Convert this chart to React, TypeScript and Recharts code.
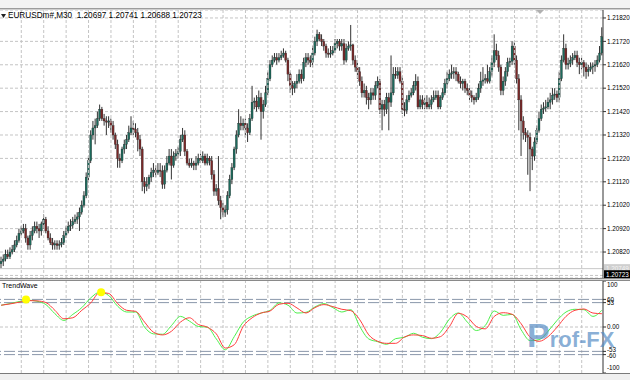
import React from "react";
import {
  Bar,
  CartesianGrid,
  ComposedChart,
  Line,
  ReferenceDot,
  ReferenceLine,
  XAxis,
  YAxis,
} from "recharts";

const symbolTitle = "EURUSDm#,M30  1.20697 1.20741 1.20688 1.20723";
const indicatorName = "TrendWave";
const bidPrice = 1.20723;
const askPrice = 1.20749;
const firstOpen = 1.2077;

// M30 bars (open = previous close)
const closes = [
  1.2078, 1.2079, 1.2081, 1.208, 1.2082, 1.2083, 1.2085, 1.2087, 1.209, 1.2091,
  1.2092, 1.2088, 1.2085, 1.2089, 1.2091, 1.2093, 1.2092, 1.2091, 1.2094, 1.2096,
  1.2091, 1.2088, 1.2086, 1.2085, 1.20855, 1.20848, 1.20852, 1.2086, 1.2089, 1.2091,
  1.2093, 1.20935, 1.2095, 1.2096, 1.2097, 1.2099, 1.2102, 1.2106, 1.2114, 1.2121,
  1.2132, 1.2135, 1.2136, 1.2139, 1.2143, 1.2139, 1.2138, 1.21375, 1.2138, 1.2136,
  1.2132, 1.2128, 1.2122, 1.2121, 1.2126, 1.2128, 1.213, 1.2133, 1.2135, 1.21345,
  1.2133, 1.213, 1.2126, 1.2112, 1.211, 1.2111, 1.2114, 1.2116, 1.2117, 1.2116,
  1.2117, 1.21165, 1.2111, 1.2117, 1.212, 1.2123, 1.2119, 1.2123, 1.2124, 1.2125,
  1.213, 1.2132, 1.2125, 1.212, 1.2119, 1.212, 1.2119, 1.212, 1.2122, 1.2121,
  1.2123, 1.212, 1.2122, 1.2121, 1.2115, 1.2108, 1.2109, 1.2104, 1.2101, 1.2099,
  1.21, 1.2106, 1.2113, 1.2118, 1.2126, 1.2132, 1.2137, 1.2136, 1.2137, 1.2135,
  1.2133, 1.2139, 1.2146, 1.21465, 1.2144, 1.2148, 1.2142, 1.2145, 1.215, 1.2156,
  1.2162, 1.2164, 1.2165, 1.2164, 1.2165, 1.2166, 1.2167, 1.2164, 1.2158, 1.2153,
  1.2152, 1.2154, 1.2155, 1.2158, 1.2156, 1.2163, 1.2165, 1.2164, 1.2163, 1.2167,
  1.2172, 1.2175, 1.2173, 1.2172, 1.217, 1.2167, 1.21665, 1.2167, 1.2168, 1.2171,
  1.2172, 1.217, 1.2171, 1.2164, 1.2169, 1.217, 1.21705, 1.2164, 1.2161, 1.2159,
  1.2155, 1.215, 1.2151, 1.2148, 1.2147, 1.215, 1.2149, 1.2153, 1.2155, 1.2143,
  1.2145, 1.2143, 1.2148, 1.2146, 1.215, 1.2158, 1.21575, 1.2159, 1.2155, 1.2143,
  1.21425, 1.2147, 1.2149, 1.215, 1.2153, 1.2155, 1.2144, 1.2147, 1.2145, 1.2146,
  1.2144, 1.2145, 1.2147, 1.2148, 1.2149, 1.2144, 1.2148, 1.215, 1.2154, 1.2156,
  1.2158, 1.21585, 1.2159, 1.2158, 1.2155, 1.2154, 1.2155, 1.2152, 1.2151, 1.2149,
  1.2148, 1.2147, 1.2148, 1.2152, 1.2155, 1.21555, 1.2156, 1.2155, 1.2159, 1.2163,
  1.2168, 1.2166, 1.2161, 1.2151, 1.2155, 1.2159, 1.2163, 1.21635, 1.217, 1.2164,
  1.2156, 1.2147, 1.2138, 1.2133, 1.2132, 1.2131, 1.2126, 1.2123, 1.2129, 1.2134,
  1.2139, 1.2143, 1.21435, 1.2144, 1.2146, 1.2147, 1.2149, 1.21495, 1.2148, 1.2156,
  1.2164, 1.2169, 1.2162, 1.21625, 1.2164, 1.2165, 1.2166, 1.2163, 1.2162, 1.2163,
  1.2161, 1.2159, 1.216, 1.2161, 1.21615, 1.2162, 1.2164, 1.2167, 1.2174,
];

const highs = [
  1.208, 1.2081, 1.2083, 1.2083, 1.2084, 1.2085, 1.2087, 1.2089, 1.2092, 1.2093,
  1.2094, 1.2094, 1.2089, 1.2091, 1.2093, 1.2095, 1.2095, 1.2094, 1.2095, 1.2098,
  1.2097, 1.2093, 1.209, 1.2088, 1.2087, 1.2087, 1.2087, 1.2088, 1.2091, 1.2093,
  1.2095, 1.2096, 1.2097, 1.2098, 1.2099, 1.2101, 1.2104, 1.2108, 1.2116, 1.2123,
  1.2134, 1.2138, 1.2139, 1.2142, 1.2145, 1.2144, 1.2141, 1.214, 1.214, 1.2139,
  1.2138, 1.2133, 1.213, 1.2124, 1.2127, 1.213, 1.2132, 1.2136, 1.214, 1.2138,
  1.2137, 1.2135, 1.2132, 1.2127, 1.2114, 1.2114, 1.2115, 1.2118, 1.212, 1.2119,
  1.212, 1.212, 1.2119, 1.2119, 1.2123, 1.2126, 1.2126, 1.2125, 1.2126, 1.2127,
  1.2132, 1.2135, 1.2134, 1.2126, 1.2122, 1.2122, 1.2121, 1.2123, 1.2124, 1.2124,
  1.2125, 1.2124, 1.2124, 1.2123, 1.2123, 1.2117, 1.2111, 1.2123, 1.2106, 1.2103,
  1.2102, 1.2108, 1.2115, 1.212, 1.2127, 1.2134, 1.2143, 1.214, 1.2139, 1.2139,
  1.2137, 1.2141, 1.2153, 1.2148, 1.2149, 1.2151, 1.215, 1.2147, 1.2153, 1.2159,
  1.2164, 1.2166, 1.2167, 1.2167, 1.2167, 1.2168, 1.2169, 1.2168, 1.2165, 1.2159,
  1.2155, 1.2155, 1.2158, 1.216, 1.216, 1.2165, 1.2167, 1.2167, 1.2166, 1.217,
  1.2174, 1.2177, 1.2176, 1.2175, 1.2173, 1.2171, 1.2169, 1.217, 1.217, 1.2173,
  1.2173, 1.2173, 1.2173, 1.2173, 1.2171, 1.2172, 1.2179, 1.2171, 1.2166, 1.2163,
  1.2161, 1.2157, 1.2154, 1.2153, 1.215, 1.2152, 1.2152, 1.2155, 1.2157, 1.2156,
  1.2147, 1.2147, 1.215, 1.215, 1.2166, 1.2161, 1.2161, 1.2161, 1.2161, 1.2157,
  1.2146, 1.2149, 1.2151, 1.2152, 1.2155, 1.2158, 1.2157, 1.2149, 1.2149, 1.2148,
  1.2149, 1.2148, 1.2149, 1.2151, 1.2151, 1.2151, 1.2149, 1.2152, 1.2156, 1.2159,
  1.216, 1.2162, 1.2161, 1.2161, 1.2159, 1.2157, 1.2156, 1.2156, 1.2154, 1.2152,
  1.2151, 1.2149, 1.215, 1.2154, 1.2159, 1.2161, 1.2158, 1.2162, 1.2161, 1.2166,
  1.2175, 1.2171, 1.2168, 1.2162, 1.2157, 1.2161, 1.2165, 1.2165, 1.2172, 1.2172,
  1.2166, 1.2158, 1.2149, 1.214, 1.2135, 1.2134, 1.2133, 1.2127, 1.2131, 1.2136,
  1.2142, 1.2145, 1.2146, 1.2147, 1.2148, 1.215, 1.2152, 1.2152, 1.2151, 1.2159,
  1.2166, 1.2175, 1.2171, 1.2165, 1.2166, 1.2167, 1.2168, 1.2168, 1.2165, 1.2165,
  1.2164, 1.2163, 1.2162, 1.2163, 1.2163, 1.2164, 1.2166, 1.217, 1.2178,
];

const lows = [
  1.2075, 1.2076, 1.2078, 1.2079, 1.2079, 1.2081, 1.2082, 1.2084, 1.2086, 1.2089,
  1.209, 1.2086, 1.2083, 1.2083, 1.2087, 1.209, 1.209, 1.2088, 1.2089, 1.2092,
  1.209, 1.2087, 1.2085, 1.2083, 1.2083, 1.2083, 1.2083, 1.2084, 1.2085, 1.2088,
  1.209, 1.2091, 1.2092, 1.2094, 1.2094, 1.2091, 1.2098, 1.2101, 1.2105, 1.2112,
  1.212, 1.213, 1.2128, 1.2135, 1.2138, 1.2138, 1.2136, 1.2132, 1.2135, 1.2133,
  1.213, 1.2126, 1.2118, 1.2118, 1.212, 1.2124, 1.2126, 1.2129, 1.2132, 1.2132,
  1.2131, 1.2125, 1.2123, 1.2108, 1.2107, 1.2108, 1.2109, 1.2112, 1.2114, 1.2114,
  1.2115, 1.2114, 1.2109, 1.2109, 1.2116, 1.2119, 1.2113, 1.2118, 1.2121, 1.2122,
  1.2123, 1.2129, 1.2123, 1.2119, 1.2118, 1.2118, 1.2117, 1.2117, 1.2119, 1.212,
  1.212, 1.2119, 1.2119, 1.2119, 1.2113, 1.2106, 1.2106, 1.2102, 1.2096, 1.2097,
  1.2097, 1.2098, 1.2105, 1.2111, 1.2117, 1.2124, 1.2131, 1.2134, 1.2134, 1.2131,
  1.2129, 1.2132, 1.2138, 1.2143, 1.2142, 1.2143, 1.213, 1.2139, 1.2144, 1.2149,
  1.2155, 1.2161, 1.2163, 1.2162, 1.2163, 1.2164, 1.2165, 1.2163, 1.2155, 1.215,
  1.2149, 1.215, 1.2152, 1.2154, 1.2154, 1.2155, 1.2161, 1.2162, 1.2161, 1.2161,
  1.2166, 1.217, 1.2172, 1.217, 1.2168, 1.2165, 1.2165, 1.2165, 1.2166, 1.2167,
  1.2169, 1.2168, 1.2168, 1.2162, 1.2163, 1.2168, 1.2168, 1.2162, 1.2159, 1.2156,
  1.2153, 1.2148, 1.2148, 1.2145, 1.2143, 1.2145, 1.2147, 1.2147, 1.2152, 1.2141,
  1.2134, 1.214, 1.2141, 1.2134, 1.2144, 1.2149, 1.2156, 1.2156, 1.2154, 1.2141,
  1.214, 1.2141, 1.2146, 1.2148, 1.2149, 1.2151, 1.2143, 1.2143, 1.2143, 1.2143,
  1.2143, 1.2143, 1.2143, 1.2146, 1.2147, 1.2143, 1.2143, 1.2147, 1.2149, 1.2152,
  1.2155, 1.2156, 1.2156, 1.2155, 1.2154, 1.2152, 1.2151, 1.215, 1.2149, 1.2147,
  1.2146, 1.2145, 1.2146, 1.2147, 1.215, 1.2153, 1.2154, 1.2154, 1.2154, 1.2157,
  1.2161, 1.2164, 1.2159, 1.2149, 1.2149, 1.2153, 1.2157, 1.2161, 1.2162, 1.2162,
  1.2154, 1.2134, 1.2123, 1.213, 1.2129, 1.2115, 1.2108, 1.2117, 1.2121, 1.2128,
  1.2133, 1.2138, 1.2141, 1.2142, 1.2143, 1.2143, 1.2145, 1.2147, 1.2146, 1.2146,
  1.2155, 1.2163, 1.216, 1.216, 1.2161, 1.2162, 1.2164, 1.2161, 1.2158, 1.216,
  1.2157, 1.2156, 1.2157, 1.2159, 1.2158, 1.2159, 1.2161, 1.2163, 1.2166,
];

const priceTicks = [
  1.2082, 1.2092, 1.2102, 1.2112, 1.2122, 1.2132, 1.2142, 1.2152, 1.2162, 1.2172, 1.2182,
];
const hiddenPriceLevel = 1.2072;
const timeGridBars = [
  9, 19, 29, 39, 49, 59, 69, 79, 89, 99, 109, 119, 129, 139, 149, 159, 169, 179, 189, 199,
  209, 219, 229, 239, 249, 259,
];

// TrendWave oscillator, sampled every 4th bar
const oscBars = [
  0, 4, 8, 12, 16, 20, 24, 28, 32, 36, 40, 44, 48, 52, 56, 60, 64, 68, 72, 76, 80, 84, 88,
  92, 96, 100, 104, 108, 112, 116, 120, 124, 128, 132, 136, 140, 144, 148, 152, 156, 160,
  164, 168, 172, 176, 180, 184, 188, 192, 196, 200, 204, 208, 212, 216, 220, 224, 228, 232,
  236, 240, 244, 248, 252, 256, 260, 264, 268,
];
const fastWave = [
  47.3, 50.9, 55.3, 58.2, 56.0, 48.7, 28.9, 14.3, 27.5, 42.1,
  63.4, 75.8, 68.5, 45.1, 32.6, 32.6, -0.4, -15.0, -15.8, 3.3,
  23.1, 12.8, 1.1, -0.4, -26.0, -49.5, -20.9, 10.6, 23.8, 30.4,
  36.3, 52.4, 47.3, 30.4, 31.9, 43.6, 50.9, 42.1, 32.6, 37.7,
  1.1, -26.0, -31.9, -37.7, -25.3, -22.3, -13.6, -22.3, -25.3, -11.4,
  17.2, 30.4, 10.6, -7.7, 3.3, 34.8, 25.3, 27.5, -6.2, -29.7,
  -27.5, -9.2, 14.3, 32.6, 38.5, 37.7, 23.1, 36.3,
];
const slowWave = [
  47.3, 50.2, 53.8, 57.5, 56.8, 53.1, 36.3, 17.9, 20.1, 36.3,
  52.4, 75.1, 72.9, 50.9, 36.3, 34.1, 10.6, -11.4, -17.2, -9.2,
  10.6, 20.1, 5.5, -0.4, -15.0, -45.8, -38.5, 1.1, 20.1, 30.4,
  34.8, 49.5, 51.6, 41.4, 30.4, 42.1, 48.7, 44.3, 38.5, 35.5,
  15.7, -17.2, -31.1, -35.5, -35.5, -21.6, -17.2, -18.7, -24.5, -20.9,
  1.1, 29.7, 21.6, 1.1, -4.0, 23.1, 31.1, 27.5, 7.0, -22.3,
  -31.1, -20.9, -0.4, 23.1, 36.3, 39.2, 30.4, 28.9,
];
const oscLevels = [60, 53, -53, -60];
const oscTicks = [100, 60, 53, 0, -53, -60, -100];
const signalBars = [11.1, 44.6];
const signalValues = [59.8, 75.8];

const FONT = '"Liberation Sans", Arial, sans-serif';
const GRID = "#c4c4c4";
const AXIS_FONT = 6.3;

const candles = closes.map((close, i) => {
  const open = i === 0 ? firstOpen : closes[i - 1];
  const hi = Math.max(highs[i], open, close);
  const lo = Math.min(lows[i], open, close);
  return { i, open, close, range: [lo, hi] };
});

const oscData = oscBars.map((i, k) => ({ i, fast: fastWave[k], slow: slowWave[k] }));

function Candle(props: any) {
  const { x, y, width, height, payload } = props;
  if (!payload || x == null || y == null) return null;
  const [lo, hi] = payload.range;
  const top = Math.min(y, y + height);
  const h = Math.abs(height);
  const toY = (v: number) => (hi === lo ? top : top + ((hi - v) / (hi - lo)) * h);
  const up = payload.close >= payload.open;
  const bTop = toY(Math.max(payload.open, payload.close));
  const bBot = toY(Math.min(payload.open, payload.close));
  const cx = x + width / 2;
  return (
    <g>
      <line x1={cx} x2={cx} y1={top} y2={top + h} stroke="#333" strokeWidth={1} />
      <rect
        x={x}
        y={bTop}
        width={width}
        height={Math.max(bBot - bTop, 0.9)}
        fill={up ? "#1d6a5c" : "#7a2828"}
        stroke="#222"
        strokeWidth={0.3}
      />
    </g>
  );
}

function PriceBox(props: any) {
  const { viewBox, text, bg, fg } = props;
  if (!viewBox) return null;
  const x0 = viewBox.x + viewBox.width + 1;
  return (
    <g>
      <rect x={x0} y={viewBox.y - 4.5} width={27} height={9} fill={bg} />
      <text x={x0 + 2} y={viewBox.y + 2.3} fontSize={AXIS_FONT} fontFamily={FONT} fill={fg}>
        {text}
      </text>
    </g>
  );
}

function OscTick(props: any) {
  const { x, y, payload } = props;
  const v = payload.value;
  const shift = v === 100 ? 4 : v === -100 ? -5 : v === -53 ? -2 : v === -60 ? 1 : 0;
  return (
    <text x={x} y={y + shift + 2.2} fontSize={AXIS_FONT} fontFamily={FONT} fill="#000" textAnchor="start">
      {v === 0 ? "0.00" : String(v)}
    </text>
  );
}

export default function App() {
  return (
    <div style={{ position: "absolute", left: 0, top: 0, width: 630, height: 380, background: "#fff", overflow: "hidden" }}>
      <div style={{ position: "absolute", left: 0, top: 0, width: 630, height: 8, background: "#f3f3f3" }} />
      <div style={{ position: "absolute", left: 0, top: 8, width: 630, height: 1, background: "#9c9c9c" }} />
      <div style={{ position: "absolute", left: 0, top: 9, width: 630, height: 1, background: "#d0d0d0" }} />

      <div style={{ position: "absolute", left: 0, top: 10 }}>
        <ComposedChart width={630} height={268} data={candles} margin={{ top: 0, right: 0, bottom: 0, left: 0 }}>
          <CartesianGrid vertical={false} stroke={GRID} strokeDasharray="3 2" />
          {timeGridBars.map((b) => (
            <ReferenceLine key={b} x={b} stroke={GRID} strokeDasharray="3 2" />
          ))}
          <ReferenceLine y={hiddenPriceLevel} stroke={GRID} strokeDasharray="3 2" />
          <XAxis dataKey="i" hide />
          <YAxis
            orientation="right"
            width={27}
            domain={[1.20709, 1.21854]}
            allowDataOverflow
            ticks={priceTicks}
            interval={0}
            tickFormatter={(v: number) => v.toFixed(5)}
            tick={{ fontSize: AXIS_FONT, fill: "#000", fontFamily: FONT, textAnchor: "start" }}
            tickSize={3}
            tickMargin={1}
            axisLine={{ stroke: "#333" }}
            tickLine={{ stroke: "#333" }}
          />
          <ReferenceLine y={askPrice} stroke="#c8c8c8" label={<PriceBox text="1.20749" bg="#cfcfcf" fg="#f4f4f4" />} />
          <ReferenceLine y={bidPrice} stroke="none" label={<PriceBox text="1.20723" bg="#000" fg="#fff" />} />
          <Bar dataKey="range" barSize={2} isAnimationActive={false} shape={(p: any) => <Candle {...p} />} />
        </ComposedChart>
      </div>

      <div style={{ position: "absolute", left: 0, top: 11, fontFamily: FONT, fontSize: 8.2, color: "#000", whiteSpace: "pre", lineHeight: "9px", display: "flex", alignItems: "center" }}>
        <svg width={7} height={8}>
          <polygon points="1,2 6,2 3.5,6" fill="#222" />
        </svg>
        <span style={{ marginLeft: 1 }}>{symbolTitle}</span>
      </div>
      <svg style={{ position: "absolute", left: 536, top: 10 }} width={9} height={5}>
        <polygon points="0,0 8,0 4,4" fill="#b0b0b0" />
      </svg>

      <div style={{ position: "absolute", left: 0, top: 278, width: 630, height: 1, background: "#8a8a8a" }} />
      <div style={{ position: "absolute", left: 0, top: 279, width: 630, height: 1, background: "#d8d8d8" }} />
      <div style={{ position: "absolute", left: 0, top: 280, width: 630, height: 1, background: "#8a8a8a" }} />

      <div style={{ position: "absolute", left: 0, top: 281 }}>
        <ComposedChart width={630} height={92} data={oscData} margin={{ top: 0, right: 0, bottom: 0, left: 0 }}>
          {timeGridBars.map((b) => (
            <ReferenceLine key={b} x={b} stroke={GRID} strokeDasharray="3 2" />
          ))}
          <ReferenceLine y={0} stroke={GRID} strokeDasharray="3 2" />
          {oscLevels.map((l) => (
            <ReferenceLine key={l} y={l} stroke="#8a97aa" strokeDasharray="11 3" />
          ))}
          <XAxis type="number" dataKey="i" domain={[-0.5, 268.5]} allowDataOverflow hide />
          <YAxis
            orientation="right"
            width={27}
            domain={[-100, 100]}
            allowDataOverflow
            ticks={oscTicks}
            interval={0}
            tick={<OscTick />}
            tickSize={3}
            tickMargin={1}
            axisLine={{ stroke: "#333" }}
            tickLine={{ stroke: "#333" }}
          />
          <Line type="monotone" dataKey="fast" stroke="#4cf04c" strokeWidth={1} dot={false} isAnimationActive={false} />
          <Line type="monotone" dataKey="slow" stroke="#ff3c3c" strokeWidth={1} dot={false} isAnimationActive={false} />
          {signalBars.map((b, k) => (
            <ReferenceDot key={k} x={b} y={signalValues[k]} r={4} fill="#ffff00" stroke="none" />
          ))}
        </ComposedChart>
      </div>

      <div style={{ position: "absolute", left: 2, top: 282, fontFamily: FONT, fontSize: 7, color: "#000", lineHeight: "8px" }}>
        {indicatorName}
      </div>

      <div style={{ position: "absolute", left: 527, top: 320, fontFamily: FONT, fontWeight: "bold", color: "rgba(86,140,196,0.7)", whiteSpace: "nowrap", lineHeight: "30px", height: 30 }}>
        <span style={{ fontSize: 34 }}>P</span>
        <span style={{ fontSize: 22 }}>rof-FX</span>
      </div>

      <div style={{ position: "absolute", left: 0, top: 373, width: 630, height: 1, background: "#7a7a7a" }} />
      <div style={{ position: "absolute", left: 0, top: 374, width: 630, height: 6, background: "#f0f0f0" }} />
    </div>
  );
}
